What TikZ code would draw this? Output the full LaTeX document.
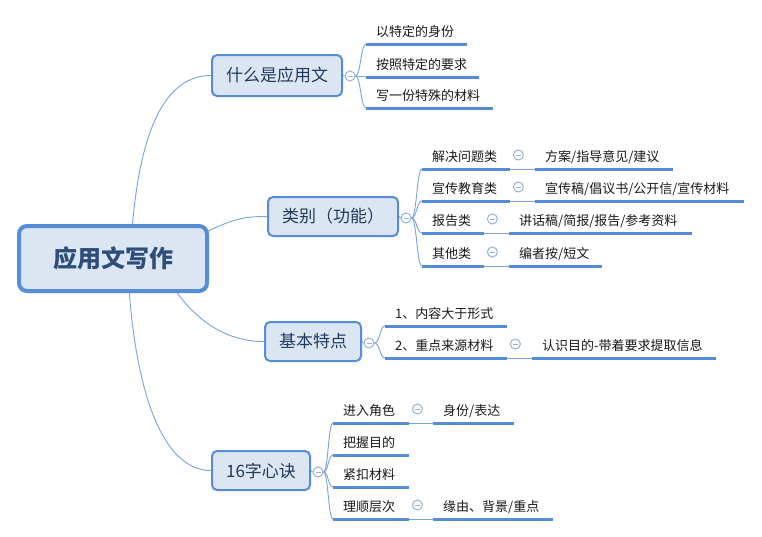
\documentclass[tikz,border=0pt]{standalone}
\usepackage{fontspec}
\setmainfont{Noto Sans CJK SC}
\usetikzlibrary{calc,backgrounds}
\definecolor{boxfill}{HTML}{DCE6F2}
\definecolor{boxdraw}{HTML}{558ED5}
\definecolor{uline}{HTML}{558ED5}
\definecolor{conn}{HTML}{7BA2D9}
\definecolor{circ}{HTML}{95B3D7}
\definecolor{roottext}{HTML}{2E4D7B}
\definecolor{btext}{HTML}{1F3A5F}
\definecolor{leaftext}{HTML}{1A1A1A}
\tikzset{
  rootbox/.style={draw=boxdraw, fill=boxfill, line width=4pt, rounded corners=8pt,
    minimum width=188pt, minimum height=65pt, inner sep=0pt,
    font=\fontsize{24}{24}\selectfont\bfseries, text=roottext},
  bbox/.style={draw=boxdraw, fill=boxfill, line width=2pt, rounded corners=5pt,
    minimum height=39pt, inner sep=0pt,
    font=\fontsize{17}{17}\selectfont, text=btext},
  colbtn/.style={circle, draw=circ, fill=white, line width=1pt, minimum size=10pt, inner sep=0pt,
    path picture={\draw[circ, line width=1pt] ($(path picture bounding box.center)+(-2.5,0)$) -- ($(path picture bounding box.center)+(2.5,0)$);}},
  leaf/.style={anchor=south west, inner sep=0pt, text width=#1, align=left,
    minimum height=24pt, text height=11pt, text depth=1.5pt,
    font=\fontsize{13}{13}\selectfont, text=leaftext,
    execute at begin node={\hspace*{10pt}}},
  conn/.style={draw=conn, line width=0.9pt},
  ul/.style={draw=uline, line width=3pt},
  elbow/.style={to path={.. controls ($(\tikztostart)!0.5!(\tikztostart -| \tikztotarget)$) and ($(\tikztotarget)!0.5!(\tikztotarget -| \tikztostart)$) .. (\tikztotarget)}}
}
\begin{document}
\begin{tikzpicture}[x=1pt,y=-1pt]
\useasboundingbox (0,0) rectangle (762,536);

% root
\node[rootbox] (root) at (113,258.5) {应用文写作};

% branches
\node[bbox, minimum width=130pt, minimum height=41pt] (b1) at (277,75.5) {什么是应用文};
\node[bbox, minimum width=130pt] (b2) at (333,216.5) {类别（功能）};
\node[bbox, minimum width=96pt] (b3) at (313,341.5) {基本特点};
\node[bbox, minimum width=98pt] (b4) at (261,470.5) {16字心诀};

\node[colbtn] (k1) at ($(b1.east)+(7,0.5)$) {};
\node[colbtn] (k2) at ($(b2.east)+(7,1.5)$) {};
\node[colbtn] (k3) at ($(b3.east)+(7,1.5)$) {};
\node[colbtn] (k4) at ($(b4.east)+(7,1.5)$) {};

% branch 1 leaves
\node[leaf=101pt] (c11) at (366,44) {以特定的身份};
\node[leaf=113pt] (c12) at (366,77) {按照特定的要求};
\node[leaf=127pt] (c13) at (366,108) {写一份特殊的材料};

% branch 2 leaves
\node[leaf=88pt] (c21) at (422,169) {解决问题类};
\node[leaf=88pt] (c22) at (422,201) {宣传教育类};
\node[leaf=62pt] (c23) at (422,233) {报告类};
\node[leaf=62pt] (c24) at (422,266) {其他类};
\node[leaf=138pt] (g21) at (535,169) {方案/指导意见/建议};
\node[leaf=209pt] (g22) at (535,201) {宣传稿/倡议书/公开信/宣传材料};
\node[leaf=183pt] (g23) at (509,233) {讲话稿/简报/报告/参考资料};
\node[leaf=93pt] (g24) at (509,266) {编者按/短文};

% branch 3 leaves
\node[leaf=122pt] (c31) at (385,326) {1、内容大于形式};
\node[leaf=122pt] (c32) at (385,358) {2、重点来源材料};
\node[leaf=184pt] (g32) at (532,358) {认识目的-带着要求提取信息};

% branch 4 leaves
\node[leaf=76pt] (c41) at (333,423) {进入角色};
\node[leaf=76pt] (c42) at (333,455) {把握目的};
\node[leaf=76pt] (c43) at (333,487) {紧扣材料};
\node[leaf=76pt] (c44) at (333,519) {理顺层次};
\node[leaf=81pt] (g41) at (433,423) {身份/表达};
\node[leaf=120pt] (g44) at (433,519) {缘由、背景/重点};

% leaf collapse buttons
\foreach \n in {c21,c22,c23,c24,c32,c41,c44}
  \node[colbtn] (k\n) at ($(\n.south east)+(8,-14)$) {};

% underlines
\foreach \n in {c11,c12,c13,c21,c22,c23,c24,g21,g22,g23,g24,c31,c32,g32,c41,c42,c43,c44,g41,g44}
  \draw[ul] (\n.south west) -- (\n.south east);

\begin{scope}[on background layer]
\fill[white] (0,0) rectangle (762,536);
% root connectors
\coordinate (r1) at (132,230);
\coordinate (r2) at (204,233);
\coordinate (r3) at (175,290);
\coordinate (r4) at (129,288);
\draw[conn] (r1) .. controls (140,130) and (165,75.5) .. (b1.west);
\draw[conn] (r2) .. controls (235,218) and (245,216.5) .. (b2.west);
\draw[conn] (r3) .. controls (200,325) and (230,341.5) .. (b3.west);
\draw[conn] (r4) .. controls (137,400) and (165,470.5) .. (b4.west);
% box to button
\draw[conn] (b1.east) -- (k1.west);
\draw[conn] (b2.east) -- (k2.west);
\draw[conn] (b3.east) -- (k3.west);
\draw[conn] (b4.east) -- (k4.west);
% button to children
\foreach \n in {c11,c12,c13} \draw[conn] (k1.east) to[elbow] (\n.south west);
\foreach \n in {c21,c22,c23,c24} \draw[conn] (k2.east) to[elbow] (\n.south west);
\foreach \n in {c31,c32} \draw[conn] (k3.east) to[elbow] (\n.south west);
\foreach \n in {c41,c42,c43,c44} \draw[conn] (k4.east) to[elbow] (\n.south west);
% child to grandchild
\draw[conn] (c21.south east) -- (g21.south west);
\draw[conn] (c22.south east) -- (g22.south west);
\draw[conn] (c23.south east) -- (g23.south west);
\draw[conn] (c24.south east) -- (g24.south west);
\draw[conn] (c32.south east) -- (g32.south west);
\draw[conn] (c41.south east) -- (g41.south west);
\draw[conn] (c44.south east) -- (g44.south west);
\end{scope}
\end{tikzpicture}
\end{document}
